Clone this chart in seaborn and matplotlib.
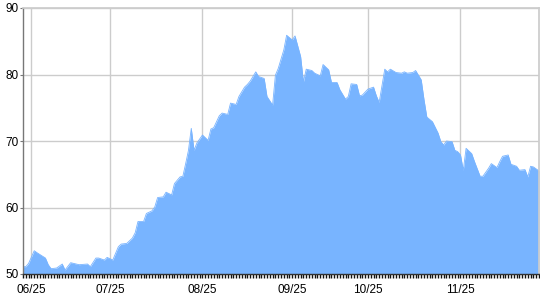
import matplotlib
matplotlib.use("Agg")
import matplotlib.pyplot as plt
import seaborn as sns
import pandas as pd
from matplotlib.ticker import MultipleLocator

# data: day index from start of series, value
day = [0, 1, 2, 4, 5, 8, 9, 10, 12, 14, 15, 17, 19, 20, 23, 24, 26, 27, 29, 30,
       32, 34, 35, 37, 39, 40, 41, 43, 44, 46, 47, 48, 50, 51, 53, 54, 56, 57, 58, 59,
       60, 61, 62, 64, 66, 67, 68, 70, 71, 73, 74, 76, 77, 79, 80, 81, 83, 84, 86, 87,
       89, 90, 91, 93, 94, 96, 97, 99, 100, 101, 103, 104, 106, 107, 109, 110, 112, 113, 115, 116,
       117, 119, 120, 121, 123, 125, 126, 127, 129, 130, 131, 133, 135, 136, 137, 139, 140, 142, 143, 144,
       146, 148, 149, 150, 151, 153, 154, 155, 156, 157, 158, 160, 161, 163, 164, 166, 167, 169, 170, 171,
       173, 174, 176, 177, 179, 180, 181, 182, 184]
value = [51.1, 51.1, 51.6, 53.5, 53.2, 52.4, 51.4, 50.8, 50.9, 51.5, 50.6, 51.7, 51.5, 51.4, 51.5, 51.1, 52.4, 52.4, 52.1, 52.5,
         52.1, 54.1, 54.5, 54.6, 55.4, 56.2, 57.9, 57.9, 59.1, 59.5, 60.1, 61.5, 61.6, 62.3, 61.9, 63.6, 64.6, 64.7, 66.6, 68.6,
         71.9, 68.6, 69.7, 70.9, 70.1, 71.8, 72.0, 73.8, 74.2, 74.0, 75.7, 75.5, 76.7, 78.1, 78.5, 79.0, 80.4, 79.7, 79.4, 76.7,
         75.4, 79.9, 80.9, 83.7, 85.9, 85.2, 85.8, 82.7, 78.9, 80.8, 80.6, 80.2, 79.8, 81.5, 80.7, 78.8, 78.8, 77.7, 76.3, 76.7,
         78.6, 78.5, 76.8, 76.9, 77.8, 78.1, 76.8, 75.8, 80.8, 80.4, 80.8, 80.3, 80.2, 80.4, 80.2, 80.3, 80.6, 79.2, 76.2, 73.6,
         72.9, 71.2, 69.9, 69.4, 70.0, 69.9, 68.6, 68.4, 67.9, 65.6, 68.9, 68.1, 66.9, 64.7, 64.7, 65.9, 66.6, 66.0, 66.9, 67.7,
         67.9, 66.5, 66.2, 65.6, 65.7, 64.6, 66.2, 66.1, 65.5]

tick_days = [3, 31, 64, 96, 123, 156]
tick_labels = ["06/25", "07/25", "08/25", "09/25", "10/25", "11/25"]
y_ticks = [50, 60, 70, 80, 90]

df = pd.DataFrame({"day": day, "value": value})

sns.set_theme(style="white")
plt.rcParams["font.family"] = ["Liberation Sans", "DejaVu Sans"]

fill = "#78b4ff"
fig = plt.figure(figsize=(5.4, 3.0), dpi=100)
ax = fig.add_axes([23 / 540, 1 - 274 / 300, 516 / 540, 266 / 300])

sns.lineplot(data=df, x="day", y="value", ax=ax, color=fill, linewidth=0.6)
ax.fill_between(df["day"], df["value"], 50, color=fill, linewidth=0, zorder=2)

ax.set_xlim(0, 184)
ax.set_ylim(50, 90)
ax.set_xticks(tick_days)
ax.set_xticklabels(tick_labels)
ax.set_yticks(y_ticks)
ax.xaxis.set_minor_locator(MultipleLocator(1))
ax.set_xlabel("")
ax.set_ylabel("")

ax.grid(True, which="major", color="#cccccc", linewidth=1)
ax.set_axisbelow(True)

ax.tick_params(axis="x", which="both", direction="out", length=3, width=1,
               color="#111111", bottom=True, labelsize=8.5, pad=4, labelcolor="#000000")
ax.tick_params(axis="y", which="major", direction="out", length=2, width=0.8,
               color="#777777", left=True, labelsize=8.5, pad=1, labelcolor="#000000")

for s in ["left", "bottom"]:
    ax.spines[s].set_color("#777777")
    ax.spines[s].set_linewidth(1)
ax.spines["bottom"].set_color("#333333")
ax.spines["right"].set_color("#cccccc")
ax.spines["top"].set_color("#cccccc")
for s in ax.spines.values():
    s.set_zorder(3)

fig.savefig("out.png", dpi=100)
